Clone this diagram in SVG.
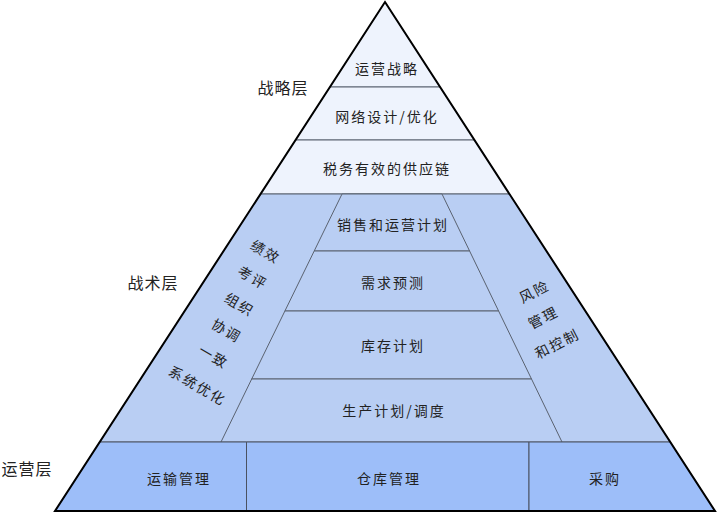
<svg xmlns="http://www.w3.org/2000/svg" width="717" height="513" viewBox="0 0 717 513">
<style>
.t{font-family:"Noto Sans CJK SC","Liberation Sans",sans-serif;font-size:14px;fill:#222;text-anchor:middle;dominant-baseline:central;letter-spacing:2px}
.lbl{font-family:"Noto Sans CJK SC","Liberation Sans",sans-serif;font-size:16px;fill:#222;text-anchor:middle;dominant-baseline:central;letter-spacing:1px}
.s{fill:#EEF3FD;stroke:#5a6270;stroke-width:1}
.m{fill:#B9CEF3;stroke:#5a6270;stroke-width:1}
.o{fill:#9DBEF9;stroke:#4a5262;stroke-width:1}
.ln{stroke:#5a6270;stroke-width:1;fill:none}
</style>
<rect width="717" height="513" fill="#ffffff"/>
<g id="strategic">
  <g id="s1"><polygon class="s" points="385,2 330,87 440,87"/><text class="t" x="387" y="68">运营战略</text></g>
  <g id="s2"><polygon class="s" points="330,87 440,87 474.5,140 295.5,140"/><text class="t" x="387" y="116">网络设计/优化</text></g>
  <g id="s3"><polygon class="s" points="295.5,140 474.5,140 509.5,194 260.5,194"/><text class="t" x="387" y="168">税务有效的供应链</text></g>
</g>
<g id="tactical">
  <polygon class="m" points="260.5,194 509.5,194 670.3,442 99.7,442"/>
  <g id="t1"><polygon class="m" points="342,194 442,194 469.6,251 314.2,251"/><text class="t" x="393" y="224">销售和运营计划</text></g>
  <g id="t2"><polygon class="m" points="314.2,251 469.6,251 498.6,311 284.9,311"/><text class="t" x="393" y="282">需求预测</text></g>
  <g id="t3"><polygon class="m" points="284.9,311 498.6,311 531.5,379 251.7,379"/><text class="t" x="393" y="345">库存计划</text></g>
  <g id="t4"><polygon class="m" points="251.7,379 531.5,379 562,442 221,442"/><text class="t" x="394" y="410">生产计划/调度</text></g>
  <g id="left-side">
    <text class="t" transform="translate(266,251) rotate(30)">绩效</text>
    <text class="t" transform="translate(253,277) rotate(30)">考评</text>
    <text class="t" transform="translate(240,304) rotate(30)">组织</text>
    <text class="t" transform="translate(227,330) rotate(30)">协调</text>
    <text class="t" transform="translate(214,356) rotate(30)">一致</text>
    <text class="t" transform="translate(198,385) rotate(30)">系统优化</text>
  </g>
  <g id="right-side">
    <text class="t" transform="translate(534,291) rotate(-27)">风险</text>
    <text class="t" transform="translate(543,317) rotate(-27)">管理</text>
    <text class="t" transform="translate(557,343) rotate(-27)">和控制</text>
  </g>
</g>
<g id="operational">
  <g id="o1"><polygon class="o" points="99.7,442 246.5,442 246.5,511 55,511"/><text class="t" x="179" y="478">运输管理</text></g>
  <g id="o2"><polygon class="o" points="246.5,442 529,442 529,511 246.5,511"/><text class="t" x="389" y="478">仓库管理</text></g>
  <g id="o3"><polygon class="o" points="529,442 670.3,442 715,511 529,511"/><text class="t" x="605" y="478">采购</text></g>
</g>
<g id="outline"><polygon points="385,2 715,511 55,511" fill="none" stroke="#000" stroke-width="2" stroke-linejoin="miter"/></g>
<g id="labels">
  <text class="lbl" x="283" y="87">战略层</text>
  <text class="lbl" x="153" y="282">战术层</text>
  <text class="lbl" x="27" y="468">运营层</text>
</g>
</svg>
